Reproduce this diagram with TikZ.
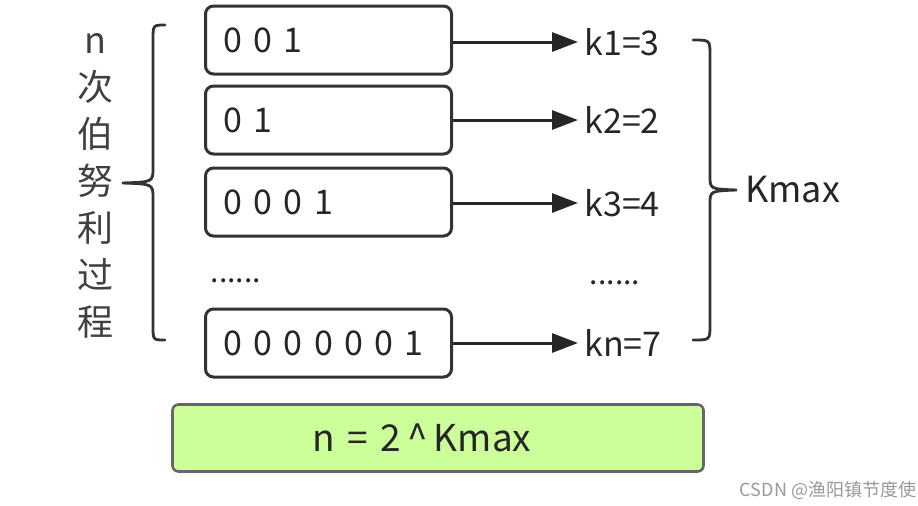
\documentclass[tikz,border=0pt]{standalone}
\usepackage{fontspec}
\setmainfont{Noto Sans CJK SC}
\usetikzlibrary{arrows.meta,positioning}
\definecolor{limefill}{HTML}{CCFF99}

\begin{document}
\begin{tikzpicture}[x=0.5pt,y=-0.5pt]
	\tikzset{seqbox/.style={draw=black!80,line width=1.5pt,rounded corners=4pt,
		minimum height=34pt,text width=105pt,inner xsep=9pt,align=left,
		font=\fontsize{17}{20}\selectfont,text=black!85,anchor=west}}
	\tikzset{klabel/.style={anchor=west,inner sep=0pt,font=\fontsize{17}{20}\selectfont,text=black!85}}
	\tikzset{arr/.style={line width=1.5pt,draw=black!85,-{Triangle[length=13pt,width=9.5pt]}}}
	\tikzset{bracket/.style={line width=1.4pt,draw=black!80,line cap=round}}
	\tikzset{ellip/.style={font=\fontsize{15}{18}\selectfont,text=black!85}}
	\useasboundingbox (0,0) rectangle (918,505);
	% bit sequences
	\node[seqbox] (b1) at (204,40) {0\,\,0\,\,1};
	\node[seqbox] (b2) at (204,120) {0\,\,1};
	\node[seqbox] (b3) at (204,202) {0\,\,0\,\,0\,\,1};
	\node[ellip] (bdots) at (236,281) {......};
	\node[seqbox] (bn) at (204,343) {0\,\,0\,\,0\,\,0\,\,0\,\,0\,\,1};
	% counts
	\node[klabel] (k1) at (584,42) {k1=3};
	\node[klabel] (k2) at (584,120) {k2=2};
	\node[klabel] (k3) at (584,203) {k3=4};
	\node[ellip] (kdots) at (615,283) {......};
	\node[klabel] (kn) at (584,343) {kn=7};
	\foreach \i in {1,2,3,n}
		\draw[arr] (b\i.east |- k\i) -- ([xshift=-3pt]k\i.west);
	% left brace and label
	\node[align=center,font=\fontsize{18}{23.5}\selectfont,text=black!75] (trials) at (95,186)
		{n\\次\\伯\\努\\利\\过\\程};
	\draw[bracket] (165,25) .. controls (153,25) .. (153,40) -- (153,168)
		.. controls (153,182) .. (122,183) .. controls (153,184) .. (153,198)
		-- (153,326) .. controls (153,340) .. (165,340);
	% right brace and label
	\draw[bracket] (693,40) .. controls (710,40) .. (710,55) -- (710,176)
		.. controls (710,189) .. (737,190) .. controls (710,191) .. (710,204)
		-- (710,325) .. controls (710,340) .. (693,340);
	\node[anchor=west,inner sep=0pt,font=\fontsize{18}{22}\selectfont,text=black!85] (kmax) at (745,190) {Kmax};
	% result
	\node[draw=black!60,line width=1.3pt,fill=limefill,rounded corners=3pt,
		minimum width=265.5pt,minimum height=33.5pt] (result) at (438,438) {};
	\node[font=\fontsize{18.5}{22}\selectfont,text=black!85] (formula) at (422,438)
		{n\,\,=\,\,2\,\^{}\,Kmax};
	\node[text=black!40,font=\fontsize{9}{11}\selectfont] (mark) at (828,490) {CSDN @渔阳镇节度使};
\end{tikzpicture}
\end{document}
